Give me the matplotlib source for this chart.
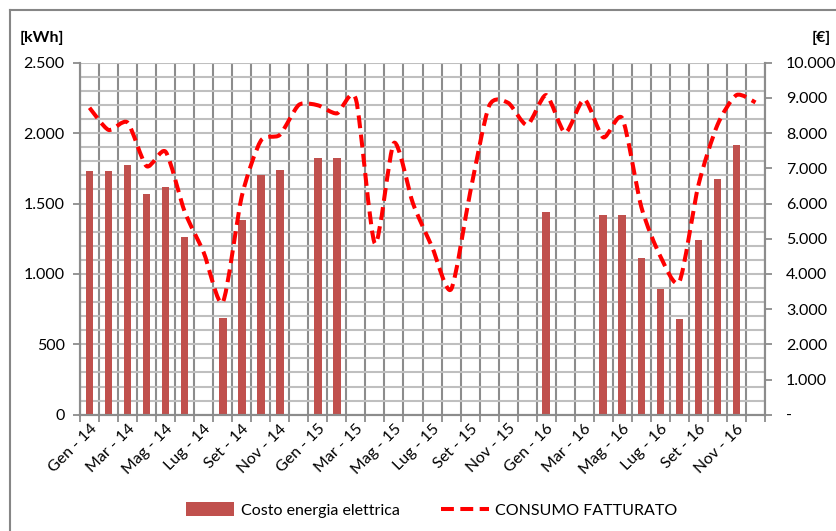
import matplotlib
matplotlib.use("Agg")
import matplotlib.pyplot as plt
import numpy as np
from matplotlib.path import Path
from matplotlib.patches import PathPatch, Patch
from matplotlib.lines import Line2D
import matplotlib.ticker as mticker

months = ["Gen", "Feb", "Mar", "Apr", "Mag", "Giu", "Lug", "Ago", "Set", "Ott", "Nov", "Dic"]
years = ["14", "15", "16"]
categories = [f"{m} - {y}" for y in years for m in months]

# Costo energia elettrica (left axis, kWh) - None = no bar
costo = [1730, 1730, 1770, 1570, 1620, 1260, None, 690, 1385, 1700, 1740, None,
         1820, 1820, None, None, None, None, None, None, None, None, None, None,
         1440, None, None, 1418, 1418, 1110, 895, 678, 1238, 1671, 1916, None]

# CONSUMO FATTURATO (right axis, €)
consumo = [8720, 8090, 8300, 7060, 7470, 5770, 4610, 3190, 6200, 7780, 7950, 8800,
           8790, 8560, 8960, 4860, 7720, 6000, 4770, 3560, 6300, 8770, 8860, 8230,
           9080, 8010, 8960, 7880, 8420, 5900, 4500, 3780, 6520, 8230, 9080, 8870]

left_ticks = [0, 500, 1000, 1500, 2000, 2500]
right_ticks = list(range(0, 10001, 1000))

plt.rcParams['font.family'] = ['Lato', 'DejaVu Sans']

W, H = 837, 531
fig = plt.figure(figsize=(W / 100, H / 100), dpi=100)
ax = fig.add_axes([80 / W, 1 - 414.7 / H, (765 - 80) / W, (414.7 - 62.7) / H])
ax2 = ax.twinx()

n = len(categories)
x = np.arange(n)
bar_vals = np.array([np.nan if v is None else v for v in costo], dtype=float)

ax.set_axisbelow(True)
ax.bar(x, np.nan_to_num(bar_vals), width=0.4, color="#C0504D", zorder=2)

ax.set_xlim(-0.5, n - 0.5)
ax.set_ylim(0, 2500)
ax2.set_ylim(0, 10000)

# smoothed dashed line (Excel style bezier through data points)
yv = np.array(consumo, dtype=float)
k = 0.12
verts = [(x[0], yv[0])]
codes = [Path.MOVETO]
for i in range(n - 1):
    p0 = np.array([x[max(i - 1, 0)], yv[max(i - 1, 0)]])
    p1 = np.array([x[i], yv[i]])
    p2 = np.array([x[i + 1], yv[i + 1]])
    p3 = np.array([x[min(i + 2, n - 1)], yv[min(i + 2, n - 1)]])
    c1 = p1 + (p2 - p0) * k
    c2 = p2 - (p3 - p1) * k
    verts += [tuple(c1), tuple(c2), tuple(p2)]
    codes += [Path.CURVE4, Path.CURVE4, Path.CURVE4]
line_style = (0, (3.2, 1.6))
patch = PathPatch(Path(verts, codes), fill=False, edgecolor="#FF0000", lw=2.9,
                  linestyle=line_style, capstyle='butt', joinstyle='round', zorder=3)
ax2.add_patch(patch)

grid_major = "#8C8C8C"
grid_minor = "#BFBFBF"

# x axis ticks
ax.set_xticks(x[::2])
ax.set_xticklabels(categories[::2], rotation=45, ha='right', va='top',
                   rotation_mode='anchor', fontsize=11.5, color="#000000")
ax.tick_params(axis='x', which='major', length=0, pad=5)
ax.set_xticks(np.arange(-0.5, n, 1), minor=True)
ax.tick_params(axis='x', which='minor', length=5, color=grid_major, width=1.3)
ax.grid(axis='x', which='minor', color=grid_major, linewidth=1.5)

# y axis ticks
ax.set_yticks(left_ticks)
ax.yaxis.set_major_formatter(mticker.FuncFormatter(lambda v, p: f"{int(v):,}".replace(",", ".")))
ax.set_yticks(np.arange(0, 2501, 100), minor=True)
ax.tick_params(axis='y', which='major', length=5, color=grid_major, width=1.3,
               labelsize=11.5, pad=6)
ax.tick_params(axis='y', which='minor', length=0)
ax.grid(axis='y', which='both', color=grid_minor, linewidth=1.5)

ax2.set_yticks(right_ticks)
ax2.yaxis.set_major_formatter(mticker.FuncFormatter(
    lambda v, p: "-" if v == 0 else f"{int(v):,}".replace(",", ".")))
ax2.tick_params(axis='y', length=5, color=grid_major, width=1.3, labelsize=11.5, pad=10)

for a in (ax, ax2):
    a.spines['top'].set_visible(False)
    a.spines['left'].set_color(grid_major)
    a.spines['right'].set_color(grid_major)
    a.spines['bottom'].set_color(grid_major)
    for s in a.spines.values():
        s.set_linewidth(1.5)

fig.text(20 / W, 1 - 38 / H, "[kWh]", fontsize=11.5, fontweight='bold', va='center', ha='left')
fig.text(831 / W, 1 - 38 / H, "[€]", fontsize=11.5, fontweight='bold', va='center', ha='right')

# chart border (top and left visible)
fig.add_artist(Line2D([10 / W, 1.0], [1 - 10 / H, 1 - 10 / H], transform=fig.transFigure,
                      color="#868686", lw=1.5))
fig.add_artist(Line2D([10 / W, 10 / W], [0, 1 - 10 / H], transform=fig.transFigure,
                      color="#868686", lw=1.5))

handles = [Patch(facecolor="#C0504D", edgecolor="none"),
           Line2D([], [], color="#FF0000", lw=2.9, linestyle=line_style)]
fig.legend(handles, ["Costo energia elettrica", "CONSUMO FATTURATO"],
           loc='center', bbox_to_anchor=(432 / W, 1 - 510 / H), ncol=2, frameon=False,
           fontsize=11.5, handlelength=3.0, handleheight=0.9, columnspacing=2.6,
           handletextpad=0.4)

fig.savefig("out.png", dpi=100)
